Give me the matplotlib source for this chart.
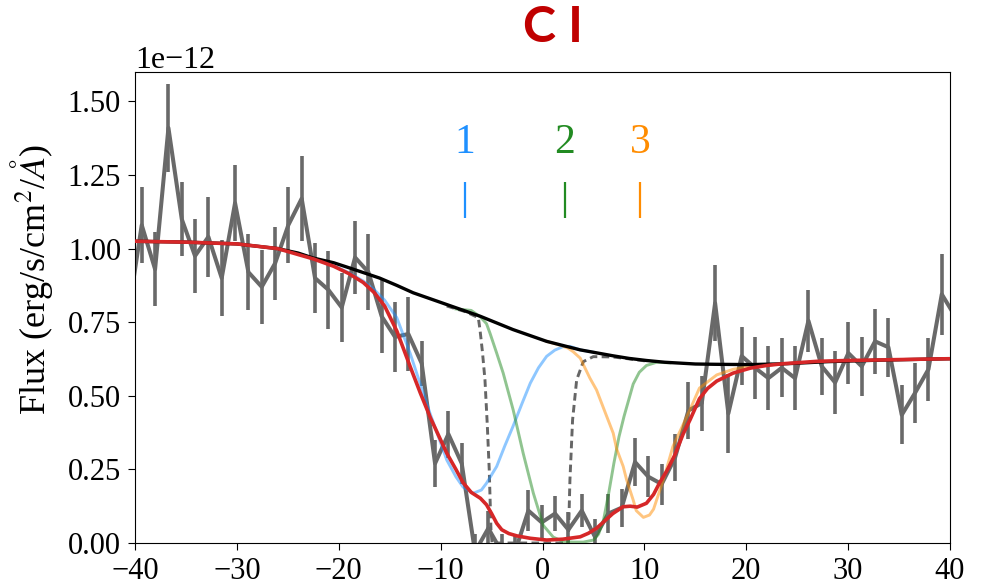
import numpy as np
import matplotlib
matplotlib.use('Agg')
import matplotlib.pyplot as plt

plt.rcParams['font.family'] = 'serif'
plt.rcParams['font.serif'] = ['Liberation Serif', 'DejaVu Serif']
plt.rcParams['mathtext.fontset'] = 'stix'

# observed spectrum (flux in units of 1e-12 erg/s/cm2/A)
vel = [-40.65, -39.34, -38.03, -36.72, -35.41, -34.11, -32.80, -31.49, -30.18, -28.87,
       -27.56, -26.25, -24.95, -23.64, -22.33, -21.02, -19.71, -18.40, -17.09, -15.79,
       -14.48, -13.17, -11.86, -10.55, -9.24, -7.93, -6.63, -5.32, -4.01, -2.70,
       -1.39, -0.08, 1.23, 2.54, 3.85, 5.16, 6.46, 7.77, 9.08, 10.39,
       11.70, 13.01, 14.32, 15.63, 16.94, 18.24, 19.55, 20.86, 22.17, 23.48,
       24.79, 26.10, 27.41, 28.72, 30.02, 31.33, 32.64, 33.95, 35.26, 36.57,
       37.88, 39.19, 40.50]
flux = [0.78, 1.08, 0.93, 1.41, 1.10, 0.975, 1.04, 0.90, 1.155, 0.92,
        0.87, 0.95, 1.08, 1.17, 0.90, 0.86, 0.80, 0.97, 0.92, 0.77,
        0.70, 0.71, 0.61, 0.27, 0.37, 0.27, -0.03, 0.05, -0.03, -0.03,
        0.11, 0.07, 0.10, 0.045, 0.11, 0.02, 0.10, 0.12, 0.275, 0.225,
        0.20, 0.29, 0.45, 0.475, 0.815, 0.44, 0.635, 0.595, 0.56, 0.595,
        0.56, 0.755, 0.60, 0.545, 0.645, 0.60, 0.685, 0.665, 0.435, 0.51,
        0.59, 0.845, 0.77]
err = [0.13, 0.13, 0.125, 0.15, 0.125, 0.125, 0.135, 0.13, 0.13, 0.13,
       0.125, 0.125, 0.128, 0.145, 0.12, 0.133, 0.117, 0.125, 0.13, 0.125,
       0.12, 0.125, 0.077, 0.08, 0.08, 0.07, 0.06, 0.06, 0.06, 0.06,
       0.07, 0.06, 0.06, 0.06, 0.055, 0.06, 0.065, 0.065, 0.083, 0.07,
       0.07, 0.08, 0.096, 0.093, 0.13, 0.134, 0.10, 0.105, 0.108, 0.10,
       0.108, 0.105, 0.098, 0.106, 0.106, 0.10, 0.111, 0.10, 0.10, 0.102,
       0.106, 0.137, 0.13]

# continuum
cont_v = [-40, -35, -30, -26, -24, -22.5, -20.5, -19, -16, -14.3, -12.7, -9.4, -6.1, -2.9,
          0.4, 3.7, 6.9, 8.5, 10.2, 12, 13.5, 15, 17, 20.4, 24, 28, 33, 40]
cont_f = [1.025, 1.022, 1.016, 1.0, 0.985, 0.968, 0.952, 0.935, 0.90, 0.875, 0.85, 0.81, 0.77, 0.725,
          0.685, 0.656, 0.636, 0.627, 0.62, 0.614, 0.611, 0.608, 0.607, 0.606, 0.609, 0.616, 0.621, 0.626]

# total model
tot_v = [-40, -35, -30, -26, -22.5, -20.5, -19, -17.6, -16.5, -15.5, -14.3, -13.0, -12.0, -11.0,
         -10.0, -9.4, -8.5, -7.8, -7.0, -6.1, -5.5, -5.0, -4.5, -4.0, -3.3, -2.5, -1.2, 0.4,
         2.0, 3.7, 4.5, 5.3, 6.1, 6.9, 7.9, 8.6, 9.3, 10.2, 10.9, 11.5, 12.2, 13.0, 13.8, 14.5,
         15.4, 16.2, 17.1, 18.7, 20.4, 22, 23.6, 26.9, 30, 33.4, 36.5, 40]
tot_f = [1.025, 1.022, 1.016, 1.0, 0.965, 0.94, 0.915, 0.885, 0.85, 0.805, 0.72, 0.60, 0.51, 0.425,
         0.35, 0.305, 0.25, 0.205, 0.172, 0.152, 0.13, 0.10, 0.067, 0.045, 0.032, 0.024, 0.016, 0.01,
         0.013, 0.021, 0.033, 0.05, 0.075, 0.10, 0.123, 0.125, 0.122, 0.135, 0.165, 0.205, 0.245, 0.30, 0.37, 0.42,
         0.49, 0.525, 0.55, 0.577, 0.594, 0.603, 0.609, 0.617, 0.62, 0.622, 0.624, 0.626]

# components 1, 2, 3
c1_v = [-22.5, -20.5, -19, -17.6, -16.5, -15.5, -14.3, -13.0, -12.0, -11.05, -10.0, -9.4, -8.5, -7.8,
        -6.8, -6.0, -5.5, -4.5, -3.7, -2.9, -2.0, -1.2, -0.4, 0.4, 1.2, 2.0, 2.7, 3.7, 5.0]
c1_f = [0.966, 0.942, 0.918, 0.89, 0.86, 0.825, 0.765, 0.645, 0.54, 0.441, 0.34, 0.282, 0.225, 0.19,
        0.169, 0.18, 0.203, 0.26, 0.33, 0.396, 0.475, 0.543, 0.595, 0.634, 0.655, 0.667, 0.668, 0.656, 0.648]
c2_v = [-8.5, -7.0, -6.1, -5.5, -5.16, -4.5, -3.86, -2.88, -1.9, -0.9, 0.07, 1.05, 2.0, 3.0,
        4.0, 5.0, 5.5, 6.0, 6.5, 7.0, 7.5, 8.0, 8.9, 9.5, 10.2, 11.2, 12.5]
c2_f = [0.795, 0.79, 0.768, 0.745, 0.713, 0.645, 0.577, 0.452, 0.305, 0.169, 0.06, 0.02, 0.005, 0.003,
        0.003, 0.01, 0.03, 0.08, 0.17, 0.27, 0.36, 0.43, 0.54, 0.58, 0.603, 0.614, 0.612]
c3_v = [0.4, 1.7, 2.5, 3.0, 3.7, 4.65, 5.3, 6.3, 6.94, 7.27, 7.92, 8.25, 8.9, 9.2,
        9.9, 10.5, 10.9, 11.85, 12.2, 12.8, 13.5, 14.5, 15.4, 17.1, 18.7, 20.35, 22.5]
c3_f = [0.685, 0.672, 0.662, 0.65, 0.628, 0.56, 0.52, 0.43, 0.373, 0.32, 0.26, 0.215, 0.146, 0.11,
        0.087, 0.095, 0.115, 0.214, 0.255, 0.328, 0.38, 0.455, 0.526, 0.571, 0.59, 0.60, 0.605]

# alternative saturated profile (dashed)
alt_v = [-9.4, -7.5, -6.3, -6.14, -5.9, -5.65, -5.42, -5.23, -5.06, -4.95, 2.53, 2.69, 2.95,
         3.35, 4.0, 4.98, 6.9, 8.6, 10.2]
alt_f = [0.805, 0.785, 0.765, 0.725, 0.65, 0.554, 0.40, 0.248, 0.044, 0.0, 0.0, 0.214, 0.418,
         0.554, 0.616, 0.633, 0.632, 0.625, 0.618]

comp_v = [-7.6, 2.2, 9.6]
comp_lab = ['1', '2', '3']
comp_col = ['dodgerblue', 'forestgreen', 'darkorange']

sc = 1e-12
fig = plt.figure(figsize=(9.92, 5.8), dpi=100)
ax = fig.add_axes([0.1361, 0.0638, 0.8216, 0.8121])

ax.errorbar(vel, np.array(flux) * sc, yerr=np.array(err) * sc, color='dimgray',
            lw=2.9, elinewidth=2.6, capsize=0, zorder=1)
ax.plot(alt_v, np.array(alt_f) * sc, color='#666666', lw=2.1, dashes=(2.6, 1.5), zorder=2)
ax.plot(c1_v, np.array(c1_f) * sc, color='dodgerblue', alpha=0.5, lw=2.1, zorder=3)
ax.plot(c2_v, np.array(c2_f) * sc, color='forestgreen', alpha=0.5, lw=2.1, zorder=3)
ax.plot(c3_v, np.array(c3_f) * sc, color='darkorange', alpha=0.5, lw=2.1, zorder=3)
ax.plot(cont_v, np.array(cont_f) * sc, color='black', lw=2.4, zorder=4)
ax.plot(tot_v, np.array(tot_f) * sc, color='#d62728', lw=2.6, zorder=5)

for v, lab, c in zip(comp_v, comp_lab, comp_col):
    ax.text(v, 1.36 * sc, lab, color=c, fontsize=30, ha='center', va='center')
ax.vlines(comp_v, 1.105 * sc, 1.225 * sc, colors=comp_col, lw=1.6)

ax.set_xlim(-40, 40)
ax.set_ylim(0, 1.6 * sc)
ax.set_yticks(np.array([0, 0.25, 0.5, 0.75, 1.0, 1.25, 1.5]) * sc)
ax.tick_params(labelsize=22, length=5, pad=5)
ax.yaxis.get_offset_text().set_fontsize(23)
ax.set_ylabel(r'Flux (erg/s/cm$^2$/$\AA$)', fontsize=26)
ax.yaxis.set_label_coords(-0.098, 0.56)

fig.text(0.5575, 0.953, 'C I', color='#c00000', fontsize=36, fontweight='bold',
         family='Lato', ha='center', va='center')

plt.savefig('out.png', dpi=100)
